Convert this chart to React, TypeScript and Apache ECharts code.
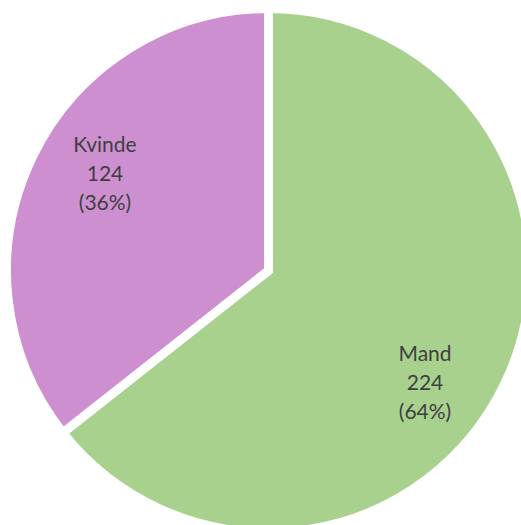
import React, { useEffect, useRef } from "react";
import * as echarts from "echarts";

const categories = ["Mand", "Kvinde"];
const values = [224, 124];
const percents = ["64%", "36%"];
const colors = ["#a9d18e", "#cd8fd0"];

export default function App() {
  const ref = useRef<HTMLDivElement>(null);
  useEffect(() => {
    if (!ref.current) return;
    const chart = echarts.init(ref.current, undefined, { renderer: "svg" });
    const labelPos = [
      { x: 425, y: 381 },
      { x: 105, y: 172 },
    ];
    chart.setOption({
      animation: false,
      backgroundColor: "#ffffff",
      series: [
        {
          type: "pie",
          center: [268.5, 270.5],
          radius: 262,
          startAngle: 90,
          clockwise: true,
          data: categories.map((c, i) => ({
            name: c,
            value: values[i],
            itemStyle: { color: colors[i] },
          })),
          itemStyle: { borderColor: "#ffffff", borderWidth: 9, borderJoin: "miter" },
          label: {
            show: true,
            position: "inside",
            formatter: (p: any) => `${p.name}\n${p.value}\n(${percents[p.dataIndex]})`,
            color: "#3f3f3f",
            fontFamily: "Lato, 'Open Sans', sans-serif",
            fontSize: 21,
            lineHeight: 29,
            align: "center",
            verticalAlign: "middle",
          },
          labelLayout: (p: any) => ({
            x: labelPos[p.dataIndex].x,
            y: labelPos[p.dataIndex].y,
            align: "center",
            verticalAlign: "middle",
          }),
          labelLine: { show: false },
          emphasis: { disabled: true },
        },
      ],
    });
    return () => chart.dispose();
  }, []);
  return (
    <div
      ref={ref}
      style={{ position: "fixed", left: 0, top: 0, width: 521, height: 525 }}
    />
  );
}
